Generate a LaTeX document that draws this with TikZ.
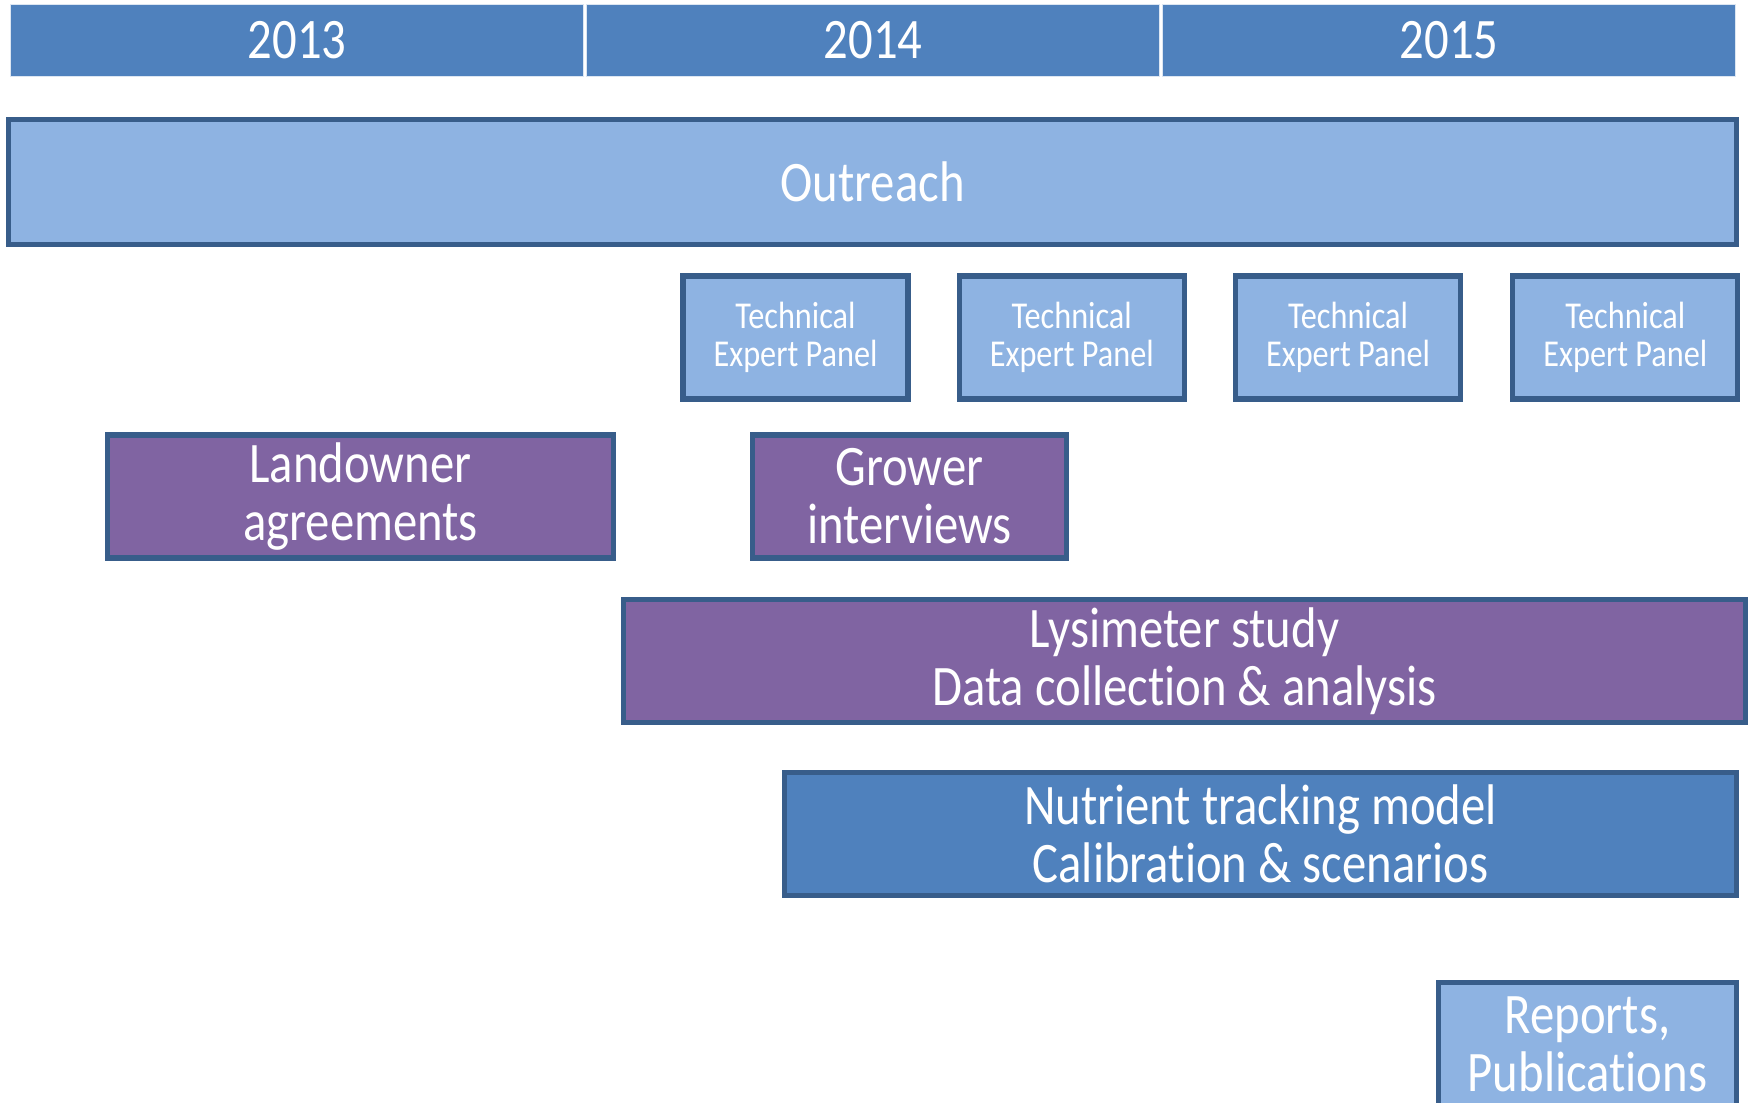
\documentclass[tikz,border=0pt]{standalone}
\usepackage{fontspec}
\setmainfont[FakeStretch=0.85,Ligatures=NoCommon]{Carlito}
\usetikzlibrary{positioning}

\definecolor{yearblue}{HTML}{4F81BD}
\definecolor{lightblue}{HTML}{8EB3E2}
\definecolor{taskpurple}{HTML}{8064A2}
\definecolor{edgeblue}{HTML}{385D8A}

\begin{document}
\begin{tikzpicture}[
    year/.style={rectangle,fill=yearblue,draw=white!80!yearblue,line width=0.5pt,text=white,
        minimum width=5.73cm,minimum height=0.72cm,inner sep=0pt,font=\fontsize{16.3}{16.5}\selectfont},
    task/.style={rectangle,draw=edgeblue,line width=1.5pt,text=white,align=center,
        minimum height=1.23cm,inner sep=0pt,font=\fontsize{16.3}{16.5}\selectfont},
    panel/.style={task,fill=lightblue,minimum width=2.25cm,font=\fontsize{10.8}{10.8}\selectfont},
    node distance=0.46cm]
        \clip (0,0) rectangle (17.48,-11.03);
        \node[year] (y13) at (2.97,-0.405) {2013};
        \node[year] (y14) at (8.73,-0.405) {2014};
        \node[year] (y15) at (14.49,-0.405) {2015};

        \node[task,fill=lightblue,minimum width=17.28cm,minimum height=1.25cm] (outreach) at (8.725,-1.82) {Outreach};

        \node[panel] (tep1) at (7.955,-3.375) {Technical\\Expert Panel};
        \node[panel] (tep2) [right=of tep1] {Technical\\Expert Panel};
        \node[panel] (tep3) [right=of tep2] {Technical\\Expert Panel};
        \node[panel] (tep4) [right=0.47cm of tep3] {Technical\\Expert Panel};

        \node[task,fill=taskpurple,minimum width=5.06cm] (land) at (3.605,-4.965) {Landowner\\agreements};
        \node[task,fill=taskpurple,minimum width=3.14cm] (grower) at (9.095,-4.965) {Grower\\interviews};

        \node[task,fill=taskpurple,minimum width=11.22cm] (lysi) at (11.845,-6.61) {Lysimeter study\\Data collection \& analysis};
        \node[task,fill=yearblue,minimum width=9.52cm] (model) at (12.605,-8.34) {Nutrient tracking model\\Calibration \& scenarios};
        \node[task,fill=lightblue,minimum width=2.98cm] (reports) at (15.875,-10.44) {Reports,\\Publications};
    \end{tikzpicture}
\end{document}
